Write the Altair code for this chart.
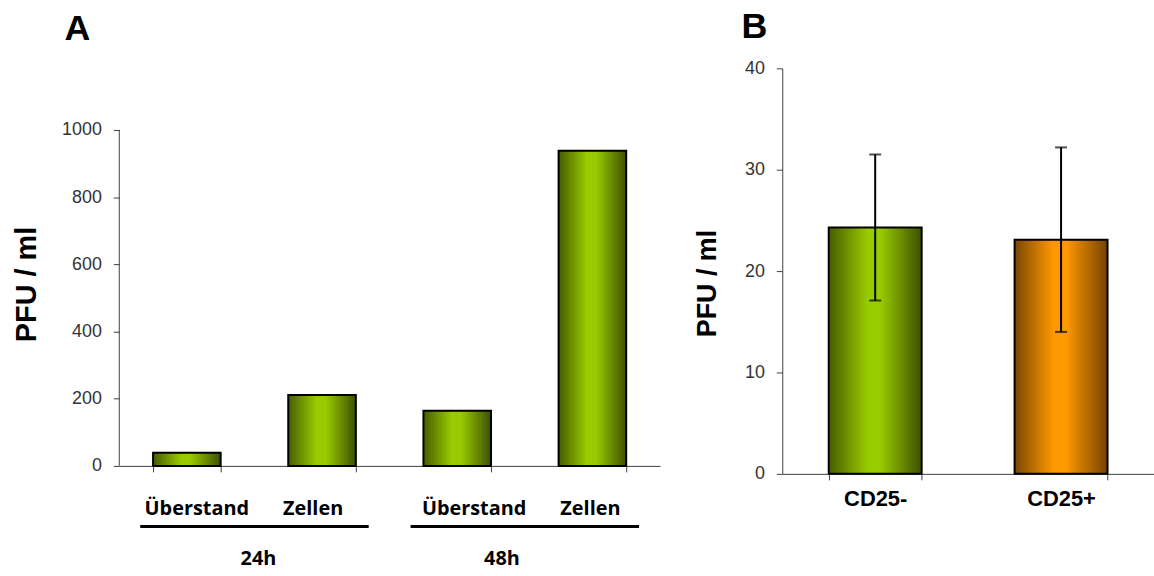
import altair as alt
import pandas as pd

# ---- Panel A: PFU/ml in supernatant and cells after 24 h and 48 h ----
a_groups = ["24h", "24h", "48h", "48h"]
a_fractions = ["Überstand", "Zellen", "Überstand", "Zellen"]
a_pfu = [39, 211, 164, 938]
a_ticks = [0, 200, 400, 600, 800, 1000]
group_names = ["24h", "48h"]

# ---- Panel B: PFU/ml for CD25- and CD25+ cells (mean ± SD) ----
b_labels = ["CD25-", "CD25+"]
b_pfu = [24.3, 23.1]
b_sd = [7.2, 9.1]
b_ticks = [0, 10, 20, 30, 40]

# label nudges (px) for the hand-placed category captions
frac_dx = [10, -9, 17, -2]
group_dx = [4, -23]

# both panels share one plot height; panel A's value axis only spans part of it
H = 408
W_A, W_B = 544, 374
A_ZERO_PX = 400      # distance of the A baseline from the top of the plot
A_TOP_PX = 62        # distance of the 1000 mark from the top of the plot
A_PX_PER_UNIT = (A_ZERO_PX - A_TOP_PX) / a_ticks[-1]
A_DOMAIN = [-(H - A_ZERO_PX) / A_PX_PER_UNIT, A_ZERO_PX / A_PX_PER_UNIT]

FONT = "Liberation Sans"
CAPTION_FONT = "Open Sans"
AXIS_GREY = "#404040"


def bar_gradient(edge_left, mid, edge_right):
    return alt.Gradient(
        gradient="linear", x1=0, x2=1, y1=0, y2=0,
        stops=[
            alt.GradientStop(offset=0, color=edge_left),
            alt.GradientStop(offset=0.42, color=mid),
            alt.GradientStop(offset=0.55, color=mid),
            alt.GradientStop(offset=1, color=edge_right),
        ],
    )


green = bar_gradient("#465c00", "#99cc00", "#3d5000")
orange = bar_gradient("#7a4600", "#ff9900", "#744200")

y_axis_style = dict(
    tickColor=AXIS_GREY, tickSize=6, format="d",
    labelColor="#333333", labelFont=FONT, labelFontSize=18, labelPadding=12,
    titleFont=FONT, titleFontWeight="bold", titleColor="black",
    grid=False,
)

# ---------------- Panel A ----------------
keys = [f"{g}|{f}" for g, f in zip(a_groups, a_fractions)]
dfA = pd.DataFrame({"key": keys, "group": a_groups, "fraction": a_fractions, "pfu": a_pfu})

xA_scale = alt.Scale(domain=keys, paddingInner=0.5, paddingOuter=0.25)
xA_axis = alt.Axis(labels=False, tickBand="extent", domainColor=AXIS_GREY,
                   tickColor=AXIS_GREY, tickSize=6, offset=-(H - A_ZERO_PX))
xA = alt.X("key:N", scale=xA_scale, title=None, axis=xA_axis)

yA_scale = alt.Scale(domain=A_DOMAIN, nice=False, zero=False)
yA_axis = alt.Axis(values=a_ticks, title="PFU / ml", titleFontSize=29,
                   titlePadding=20, domain=False, titleY=217, **y_axis_style)
yA = alt.Y("pfu:Q", scale=yA_scale, axis=yA_axis)

barsA = alt.Chart(dfA).mark_bar(fill=green, stroke="black", strokeWidth=2).encode(
    x=xA, y=yA, y2=alt.datum(0))

# value-axis line running from 0 to the top tick
dfAxis = pd.DataFrame({"lo": [a_ticks[0]], "hi": [a_ticks[-1]]})
axisA = alt.Chart(dfAxis).mark_rule(color=AXIS_GREY, strokeWidth=1).encode(
    x=alt.value(0),
    y=alt.Y("lo:Q", scale=yA_scale, axis=yA_axis),
    y2="hi:Q",
)

frac_layers = []
for i, key in enumerate(keys):
    frac_layers.append(
        alt.Chart(dfA[dfA["key"] == key]).mark_text(
            font=CAPTION_FONT, fontWeight="bold", fontSize=20, color="black",
            baseline="alphabetic", align="center", dx=frac_dx[i],
        ).encode(
            x=xA,
            y=alt.value(A_ZERO_PX + 49),
            text="fraction:N",
        )
    )

band_part = alt.layer(barsA, axisA, *frac_layers)

# group brackets under the category captions, on a 0..4 band-unit scale
inset = 0.155
dfG = pd.DataFrame({
    "group": group_names,
    "start": [2 * i + inset for i in range(len(group_names))],
    "end": [2 * i + 2 - inset for i in range(len(group_names))],
    "center": [2 * i + 1 for i in range(len(group_names))],
})
lin = alt.Scale(domain=[0, 2 * len(group_names)])

rulesG = alt.Chart(dfG).mark_rule(color="black", strokeWidth=3).encode(
    x=alt.X("start:Q", scale=lin, axis=None),
    x2="end:Q",
    y=alt.value(A_ZERO_PX + 61),
)
group_layers = []
for i, g in enumerate(group_names):
    group_layers.append(
        alt.Chart(dfG[dfG["group"] == g]).mark_text(
            font=CAPTION_FONT, fontWeight="bold", fontSize=20, color="black",
            baseline="alphabetic", align="center", dx=group_dx[i],
        ).encode(
            x=alt.X("center:Q", scale=lin, axis=None),
            y=alt.value(A_ZERO_PX + 100),
            text="group:N",
        )
    )
lin_part = alt.layer(rulesG, *group_layers)

panelA = alt.layer(band_part, lin_part).resolve_scale(x="independent").properties(
    width=W_A, height=H,
    title=alt.TitleParams(
        "A", anchor="start", frame="group", dx=-55, offset=-8,
        font=FONT, fontSize=36, fontWeight="bold", color="black",
        baseline="alphabetic",
    ),
)

# ---------------- Panel B ----------------
dfB = pd.DataFrame({"label": b_labels, "pfu": b_pfu, "sd": b_sd})

xB_scale = alt.Scale(domain=b_labels, paddingInner=0.5, paddingOuter=0.25)
xB = alt.X(
    "label:N", scale=xB_scale, title=None,
    axis=alt.Axis(tickBand="extent", domainColor=AXIS_GREY, tickColor=AXIS_GREY,
                  tickSize=6, labelAngle=0, labelFont=FONT, labelFontWeight="bold",
                  labelFontSize=22, labelColor="black", labelPadding=9),
)
yB_scale = alt.Scale(domain=[0, 40])
yB = alt.Y(
    "pfu:Q", scale=yB_scale,
    axis=alt.Axis(values=b_ticks, title="PFU / ml", titleFontSize=27,
                  titlePadding=23, domainColor=AXIS_GREY, titleY=216, **y_axis_style),
)

baseB = alt.Chart(dfB)
bar_neg = baseB.transform_filter(alt.datum.label == "CD25-").mark_bar(
    fill=green, stroke="black", strokeWidth=2).encode(x=xB, y=yB)
bar_pos = baseB.transform_filter(alt.datum.label == "CD25+").mark_bar(
    fill=orange, stroke="black", strokeWidth=2).encode(x=xB, y=yB)

errB = baseB.transform_calculate(
    lo="datum.pfu - datum.sd", hi="datum.pfu + datum.sd"
)
err_rule = errB.mark_rule(color="black", strokeWidth=2).encode(
    x=xB, y=alt.Y("lo:Q", scale=yB_scale), y2="hi:Q")
cap_lo = errB.mark_tick(color="black", size=12, thickness=2).encode(
    x=xB, y=alt.Y("lo:Q", scale=yB_scale))
cap_hi = errB.mark_tick(color="black", size=12, thickness=2).encode(
    x=xB, y=alt.Y("hi:Q", scale=yB_scale))

panelB = alt.layer(bar_neg, bar_pos, err_rule, cap_lo, cap_hi).properties(
    width=W_B, height=H,
    title=alt.TitleParams(
        "B", anchor="start", frame="group", dx=-41, offset=-15,
        font=FONT, fontSize=36, fontWeight="bold", color="black",
        baseline="alphabetic",
    ),
)

chart = alt.hconcat(panelA, panelB, spacing=33).configure_view(stroke=None).properties(
    padding={"left": 12, "top": 8, "right": 0, "bottom": 0},
    background="white",
)

chart.save("out.html", embed_options={"renderer": "svg", "actions": False})
